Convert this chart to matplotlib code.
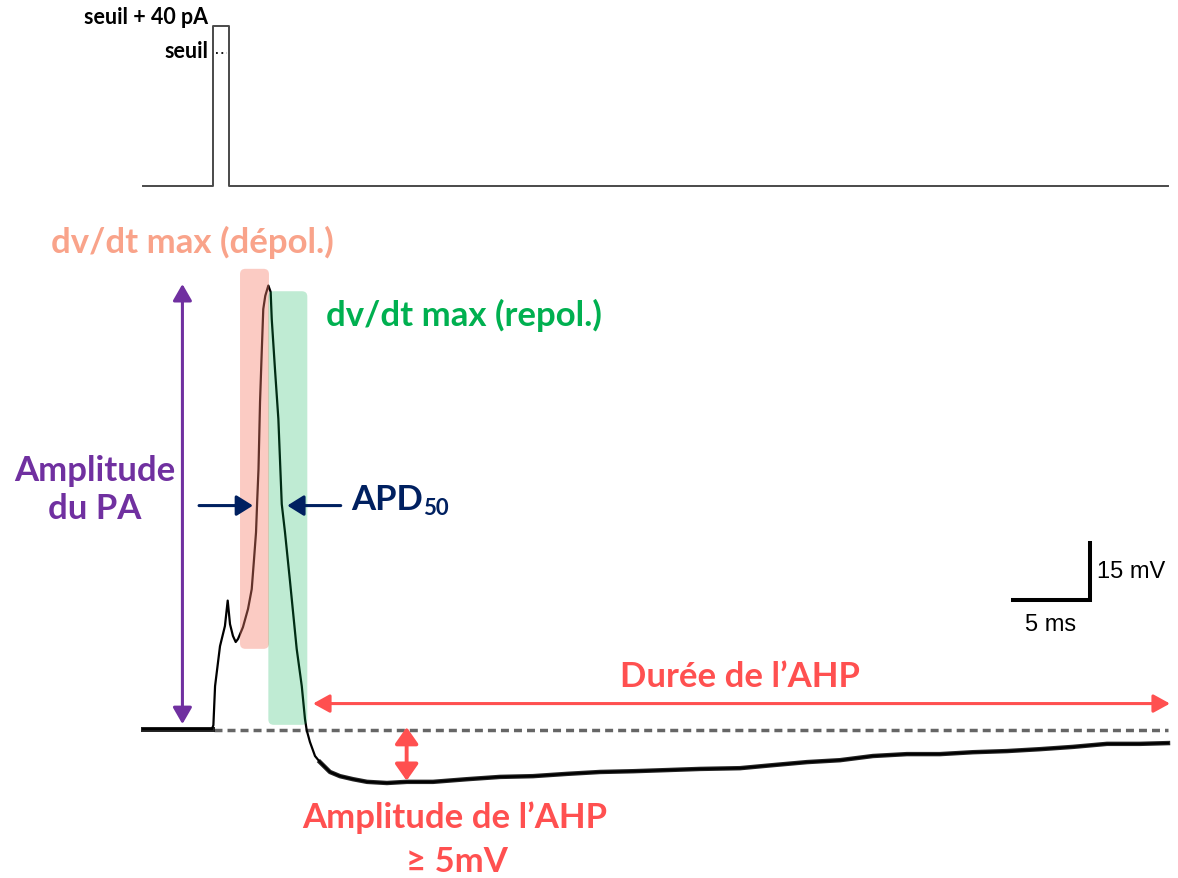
import numpy as np
import matplotlib.pyplot as plt
from matplotlib.patches import FancyBboxPatch

# membrane potential trace (time in ms, voltage in mV)
t_ms = [0.0, 2.08, 4.48, 4.57, 4.68, 5.00, 5.32, 5.50, 5.65, 5.84, 6.02, 6.17,
        6.49, 6.82, 7.06, 7.21, 7.34, 7.42, 7.50, 7.60, 7.71, 7.81, 7.94, 8.14,
        8.29, 8.36, 8.57, 8.79, 9.01, 9.22, 9.55, 9.98, 10.31, 10.52, 10.63,
        10.84, 11.17, 11.49, 12.14, 12.79, 13.64, 14.55, 15.84, 17.14, 18.83,
        21.04, 23.18, 25.32, 27.53, 29.68, 31.82, 34.03, 36.17, 38.77, 40.91,
        43.12, 45.26, 47.40, 49.61, 51.75, 53.90, 56.10, 58.25, 60.39, 62.60,
        64.74, 66.56]
v_mv = [-65.0, -65.0, -65.0, -64.0, -53.7, -43.2, -37.9, -31.2, -37.4, -40.5,
        -42.1, -41.3, -38.2, -33.4, -28.2, -20.3, -13.2, -4.5, 3.4, 21.1, 34.2,
        45.5, 49.0, 51.7, 50.0, 42.9, 29.7, 16.6, -5.8, -13.2, -26.3, -43.9,
        -53.7, -62.4, -65.3, -68.4, -72.1, -73.7, -76.3, -77.4, -78.2, -78.9,
        -79.2, -78.9, -78.9, -78.2, -77.6, -77.4, -76.8, -76.3, -76.1, -75.8,
        -75.5, -75.3, -74.5, -73.7, -73.2, -72.1, -71.6, -71.6, -71.1, -70.8,
        -70.3, -69.7, -68.9, -68.9, -68.7]

# current step (pA)
stim_t = [0.0, 4.53, 4.53, 5.60, 5.60, 66.56]
stim_i = [0, 0, 240, 240, 0, 0]
seuil = 200

rest_v = -65.0
peak_v = 51.7
ahp_min = -78.6
ahp_t = 17.12

# dv/dt windows (ms, mV)
depol_win = (6.30, 8.18, -43.9, 56.1)
repol_win = (8.14, 10.67, -63.9, 50.2)

# scale bar
bar_t0, bar_v0 = 56.47, -31.0
bar_dt, bar_dv = 5, 15

purple = '#7030A0'
navy = '#002060'
red = '#FF5050'
green = '#00B050'
salmon = '#F9A38A'
font = ['Lato', 'DejaVu Sans']

fig = plt.figure(figsize=(11.78, 8.79), dpi=100)
ax = fig.add_axes([0, 0, 1, 1])
ax.set_xlim(-9.286, 67.21)
ax.set_ylim(-104.2, 127.1)
ax.axis('off')

ax_s = fig.add_axes([0, 0, 1, 1])
ax_s.set_xlim(-9.286, 67.21)
ax_s.set_ylim(-1041, 280.8)
ax_s.axis('off')
ax_s.patch.set_alpha(0)

# stimulus
ax_s.plot(stim_t, stim_i, color='#4a4a4a', lw=1.4)
ax_s.plot([4.75, 5.45], [seuil, seuil], color='black', lw=1.3, ls=(0, (1, 2)))
fig.text(208 / 1178, 1 - 18 / 879, 'seuil + 40 pA', ha='right', va='center',
         fontsize=15.5, fontweight='bold', family=font)
fig.text(208 / 1178, 1 - 51 / 879, 'seuil', ha='right', va='center',
         fontsize=15.5, fontweight='bold', family=font)

# baseline
ax.plot([4.6, 66.56], [rest_v - 0.3, rest_v - 0.3], color='#666666', lw=2.5,
        ls=(0, (2.3, 1.45)), zorder=1)

# trace (noisy segments drawn a bit heavier)
t_arr = np.array(t_ms)
v_arr = np.array(v_mv)
pre = t_arr <= 4.5
post = t_arr >= 11.4
ax.plot(t_arr[pre], v_arr[pre], color='black', lw=3.6, alpha=0.85, zorder=2)
ax.plot(t_arr[post], v_arr[post], color='black', lw=3.2, alpha=0.85, zorder=2)
ax.plot(t_ms, v_mv, color='black', lw=1.6, zorder=2)

# shaded windows
for (x0, x1, y0, y1), c, a in [(depol_win, '#F77F6B', 0.4), (repol_win, green, 0.25)]:
    ax.add_patch(FancyBboxPatch((x0, y0), x1 - x0, y1 - y0,
                                boxstyle='round,pad=0,rounding_size=0.35',
                                mutation_aspect=4.05, fc=c, ec='none', alpha=a,
                                zorder=3))

# amplitude du PA
ax.annotate('', xy=(2.56, peak_v + 0.4), xytext=(2.56, rest_v + 1.3),
            arrowprops=dict(arrowstyle='<|-|>,head_length=0.4,head_width=0.23',
                            mutation_scale=25, color=purple, lw=2.2,
                            shrinkA=0, shrinkB=0))
fig.text(95 / 1178, 1 - 490 / 879, 'Amplitude\ndu PA', ha='center', va='center',
         fontsize=25, fontweight='bold', color=purple, family=font,
         linespacing=1.25)

# APD50
ax.annotate('', xy=(7.14, -6.2), xytext=(3.64, -6.2),
            arrowprops=dict(arrowstyle='-|>,head_length=0.4,head_width=0.25',
                            mutation_scale=25, color=navy, lw=2.2,
                            shrinkA=0, shrinkB=0))
ax.annotate('', xy=(9.37, -6.2), xytext=(12.84, -6.2),
            arrowprops=dict(arrowstyle='-|>,head_length=0.4,head_width=0.25',
                            mutation_scale=25, color=navy, lw=2.2,
                            shrinkA=0, shrinkB=0))
apd = fig.text(351 / 1178, 1 - 500 / 879, 'APD', ha='left', va='center',
               fontsize=25, fontweight='bold', color=navy, family=font)
ax.annotate('50', xy=(1.0, -0.08), xycoords=apd, ha='left', va='bottom',
            fontsize=16, fontweight='bold', color=navy, family=font)

# dv/dt labels
fig.text(192 / 1178, 1 - 242 / 879, 'dv/dt max (dépol.)', ha='center',
         va='center', fontsize=25, fontweight='bold', color=salmon, family=font)
fig.text(464 / 1178, 1 - 315 / 879, 'dv/dt max (repol.)', ha='center',
         va='center', fontsize=25, fontweight='bold', color=green, family=font)

# AHP duration
ax.annotate('', xy=(66.69, -58.3), xytext=(11.04, -58.3),
            arrowprops=dict(arrowstyle='<|-|>,head_length=0.4,head_width=0.22',
                            mutation_scale=25, color=red, lw=2.2,
                            shrinkA=0, shrinkB=0))
fig.text(740 / 1178, 1 - 677 / 879, 'Durée de l\u2019AHP', ha='center',
         va='center', fontsize=25, fontweight='bold', color=red, family=font)

# AHP amplitude
ax.annotate('', xy=(ahp_t, ahp_min), xytext=(ahp_t, rest_v + 0.5),
            arrowprops=dict(arrowstyle='<|-|>,head_length=0.4,head_width=0.28',
                            mutation_scale=25, color=red, lw=2.8,
                            shrinkA=0, shrinkB=0))
fig.text(455 / 1178, 1 - 818 / 879, 'Amplitude de l\u2019AHP', ha='center',
         va='center', fontsize=25, fontweight='bold', color=red, family=font)
fig.text(457 / 1178, 1 - 862 / 879, '\u2265 5mV', ha='center',
         va='center', fontsize=25, fontweight='bold', color=red, family=font)

# scale bar
ax.plot([bar_t0, bar_t0 + bar_dt, bar_t0 + bar_dt],
        [bar_v0, bar_v0, bar_v0 + bar_dv], color='black', lw=2.9,
        solid_joinstyle='miter')
fig.text(1097 / 1178, 1 - 572 / 879, '15 mV', ha='left', va='center',
         fontsize=17, family='Liberation Sans')
fig.text(1051 / 1178, 1 - 625 / 879, '5 ms', ha='center', va='center',
         fontsize=17, family='Liberation Sans')

fig.savefig('out.png', dpi=100)
